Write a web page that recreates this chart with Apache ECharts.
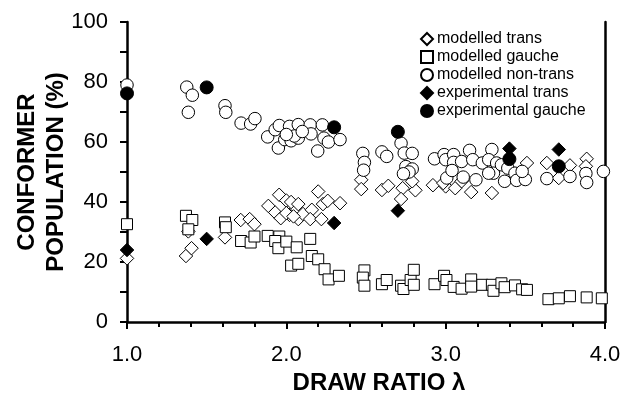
<!DOCTYPE html>
<html>
<head>
<meta charset="utf-8">
<script src="https://cdn.jsdelivr.net/npm/echarts@6/dist/echarts.min.js"></script>
<style>html,body{margin:0;padding:0;background:#fff}#c{width:625px;height:403px}</style>
</head>
<body>
<div id="c"></div>
<script>
// ---- data (draw ratio, conformer population %) ----
const modelledTrans = [
  [1.0,21.2],
  [1.37,22.0],[1.405,24.6],[1.385,30.2],
  [1.615,28.2],[1.714,34.0],[1.77,34.3],[1.80,32.6],
  [1.887,38.7],[1.955,42.4],[2.0,40.5],[2.03,40.0],[2.075,39.3],[1.93,36.5],[1.965,34.6],[2.02,35.7],
  [2.075,34.3],[2.105,36.0],[2.16,37.4],[2.15,34.3],[2.22,34.3],[2.23,39.3],[2.26,40.4],[2.337,39.6],
  [2.20,43.5],[2.0,36.3],[2.045,35.2],
  [2.47,47.4],[2.47,44.3],[2.60,44.0],[2.64,45.4],[2.73,44.6],[2.81,43.9],[2.72,41.0],[2.79,46.9],
  [2.92,45.6],[3.0,45.2],[3.06,44.6],[3.10,46.9],[3.16,43.3],[3.29,43.0],[2.985,46.3],
  [3.51,53.0],[3.635,53.0],[3.78,52.2],[3.885,54.4],[3.88,51.9],[3.71,48.0]
];
const modelledGauche = [
  [1.0,32.6],
  [1.37,35.4],[1.41,34.0],[1.385,30.9],
  [1.615,33.2],[1.62,31.6],
  [1.716,27.0],[1.776,26.5],[1.80,28.5],
  [1.883,28.7],[1.956,28.5],[1.93,27.0],[1.95,24.6],[2.0,26.8],[2.065,24.9],[2.15,27.7],
  [2.03,18.8],[2.075,19.4],[2.16,22.0],[2.20,20.9],[2.24,17.6],[2.265,14.2],[2.33,15.4],
  [2.49,17.2],[2.48,14.8],[2.49,12.1],[2.60,12.6],[2.63,14.0],[2.72,12.1],[2.735,11.0],[2.78,14.0],
  [2.80,17.4],[2.80,12.4],[2.93,12.6],[2.99,15.4],[3.005,14.0],[3.05,11.7],[3.10,11.1],[3.16,14.2],
  [3.16,11.8],[3.23,12.4],[3.29,12.4],[3.30,10.4],[3.35,12.9],[3.37,11.6],[3.435,12.2],[3.48,10.9],[3.51,10.7],
  [3.645,7.6],[3.71,7.9],[3.78,8.6],[3.885,8.2],[3.98,7.9]
];
const modelledNonTrans = [
  [1.0,79.0],
  [1.375,78.3],[1.41,75.6],[1.385,69.9],
  [1.615,72.1],[1.62,69.9],
  [1.716,66.3],[1.776,66.0],[1.803,67.8],
  [1.883,61.7],[1.93,64.1],[1.956,65.5],[1.95,58.0],[1.99,60.8],[2.02,65.2],[2.03,60.4],[2.075,65.8],
  [2.075,61.3],[2.05,62.0],[2.15,65.7],[2.155,62.7],[2.197,57.0],[2.226,65.7],[2.236,61.3],[2.264,60.0],
  [2.337,60.8],[2.10,63.5],[2.0,62.5],
  [2.48,56.2],[2.49,53.2],[2.485,50.6],[2.60,56.7],[2.63,55.2],
  [2.72,59.6],[2.74,56.3],[2.79,56.2],[2.75,51.8],[2.79,51.0],[2.77,50.0],[2.735,49.4],
  [2.93,54.4],[2.99,55.8],[3.0,54.1],[3.05,55.8],[3.05,53.2],[3.007,48.0],[3.04,50.5],[3.10,53.5],
  [3.15,57.2],[3.17,54.1],[3.23,53.0],[3.29,57.5],[3.27,54.1],[3.32,53.0],[3.30,49.6],[3.19,47.4],
  [3.11,48.3],[3.35,52.4],[3.39,51.3],[3.435,49.6],[3.37,46.9],[3.445,47.2],[3.50,47.5],[3.48,50.2],[3.27,49.6],
  [3.635,47.8],[3.78,48.5],[3.88,49.5],[3.885,46.5],[3.99,50.2]
];
const experimentalTrans = [[1.0,24.0],[1.5,27.7],[2.30,33.0],[2.70,37.1],[3.40,57.8],[3.71,57.5]];
const experimentalGauche = [[1.0,76.2],[1.5,78.2],[2.30,64.9],[2.70,63.4],[3.40,54.3],[3.71,51.9]];

const xTicks = {min: 1, max: 4, interval: 1};
const yTicks = {min: 0, max: 100, interval: 20};

const FONT = '"Liberation Sans", Arial, sans-serif';
const chart = echarts.init(document.getElementById('c'), null, {renderer: 'canvas'});

const openStyle = {color: '#fff', borderColor: '#000', borderWidth: 1, opacity: 1};
const fillStyle = {color: '#000', borderColor: '#000', borderWidth: 1, opacity: 1};

chart.setOption({
  animation: false,
  backgroundColor: '#fff',
  textStyle: {fontFamily: FONT, color: '#000'},
  grid: {left: 127, right: 20, top: 22, bottom: 81, containLabel: false, outerBoundsMode: 'none'},
  legend: {
    orient: 'vertical',
    left: 415, top: 26,
    itemWidth: 12, itemHeight: 12, itemGap: 2,
    textStyle: {fontFamily: FONT, fontSize: 16, color: '#000', padding: [0,0,0,-1]},
    data: ['modelled trans','modelled gauche','modelled non-trans','experimental trans','experimental gauche']
  },
  xAxis: {
    type: 'value', min: xTicks.min, max: xTicks.max, interval: xTicks.interval,
    name: 'DRAW RATIO λ', nameLocation: 'middle', nameGap: 49, nameMoveOverlap: false,
    nameTextStyle: {fontFamily: FONT, fontSize: 24, fontWeight: 'bold', color: '#000', padding: [0,0,0,26]},
    axisLine: {lineStyle: {color: '#000', width: 2.5}},
    axisTick: {show: true, length: 7, lineStyle: {color: '#000', width: 2}},
    minorTick: {show: true, splitNumber: 5, length: 5, lineStyle: {color: '#000', width: 2}},
    axisLabel: {fontFamily: FONT, fontSize: 22, color: '#000', margin: 22,
      formatter: v => v.toFixed(1)},
    splitLine: {show: false}
  },
  yAxis: [{
    type: 'value', min: yTicks.min, max: yTicks.max, interval: yTicks.interval,
    name: 'CONFORMER\nPOPULATION (%)', nameLocation: 'middle', nameGap: 56, nameRotate: 90, nameMoveOverlap: false,
    nameTextStyle: {fontFamily: FONT, fontSize: 24, fontWeight: 'bold', color: '#000', lineHeight: 29, align: 'center'},
    axisLine: {show: true, lineStyle: {color: '#000', width: 2.5}},
    axisTick: {show: true, length: 7, lineStyle: {color: '#000', width: 2}},
    minorTick: {show: true, splitNumber: 2, length: 7, lineStyle: {color: '#000', width: 2}},
    axisLabel: {fontFamily: FONT, fontSize: 22, color: '#000', margin: 19},
    splitLine: {show: false}
  }, {
    type: 'value', min: yTicks.min, max: yTicks.max, position: 'right',
    axisLine: {show: true, lineStyle: {color: '#000', width: 2.5}},
    axisTick: {show: false}, axisLabel: {show: false}, splitLine: {show: false}
  }],
  series: [
    {name: 'modelled trans', type: 'scatter', data: modelledTrans, symbol: 'diamond', symbolSize: 13.5, itemStyle: openStyle, z: 2},
    {name: 'modelled gauche', type: 'scatter', data: modelledGauche, symbol: 'rect', symbolSize: 11, itemStyle: openStyle, z: 2},
    {name: 'modelled non-trans', type: 'scatter', data: modelledNonTrans, symbol: 'circle', symbolSize: 12.5, itemStyle: openStyle, z: 2},
    {name: 'experimental trans', type: 'scatter', data: experimentalTrans, symbol: 'diamond', symbolSize: 13.5, itemStyle: fillStyle, z: 3},
    {name: 'experimental gauche', type: 'scatter', data: experimentalGauche, symbol: 'circle', symbolSize: 13, itemStyle: fillStyle, z: 3}
  ]
});
</script>
</body>
</html>
